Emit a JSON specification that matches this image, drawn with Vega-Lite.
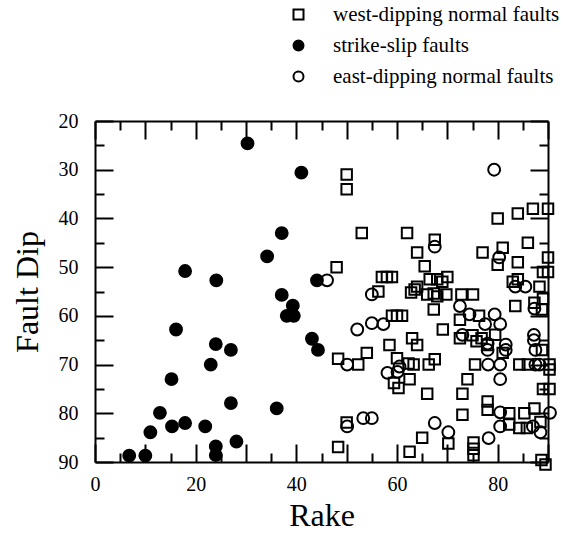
{
  "$schema": "https://vega.github.io/schema/vega-lite/v6.json",
  "width": 453,
  "height": 341,
  "autosize": {"type": "none"},
  "padding": {"left": 95, "top": 121, "right": 15, "bottom": 73},
  "background": "white",
  "datasets": {
    "west": [
      {"r":50,"d":31,"t":"west-dipping normal faults"},{"r":50,"d":34,"t":"west-dipping normal faults"},
      {"r":80,"d":40,"t":"west-dipping normal faults"},{"r":84,"d":39,"t":"west-dipping normal faults"},
      {"r":87,"d":38,"t":"west-dipping normal faults"},{"r":90,"d":38,"t":"west-dipping normal faults"},
      {"r":53,"d":43,"t":"west-dipping normal faults"},{"r":62,"d":43,"t":"west-dipping normal faults"},
      {"r":67.5,"d":44.4,"t":"west-dipping normal faults"},{"r":64,"d":47,"t":"west-dipping normal faults"},
      {"r":77,"d":47,"t":"west-dipping normal faults"},{"r":81,"d":46,"t":"west-dipping normal faults"},
      {"r":86,"d":45,"t":"west-dipping normal faults"},{"r":90,"d":48,"t":"west-dipping normal faults"},
      {"r":90,"d":51,"t":"west-dipping normal faults"},{"r":89,"d":51,"t":"west-dipping normal faults"},
      {"r":80,"d":49.5,"t":"west-dipping normal faults"},{"r":84,"d":49,"t":"west-dipping normal faults"},
      {"r":48,"d":50,"t":"west-dipping normal faults"},{"r":65.5,"d":49.8,"t":"west-dipping normal faults"},
      {"r":57,"d":52,"t":"west-dipping normal faults"},{"r":58,"d":52,"t":"west-dipping normal faults"},
      {"r":59,"d":52,"t":"west-dipping normal faults"},{"r":66.5,"d":52.5,"t":"west-dipping normal faults"},
      {"r":70,"d":52,"t":"west-dipping normal faults"},{"r":68,"d":52.5,"t":"west-dipping normal faults"},
      {"r":69,"d":53,"t":"west-dipping normal faults"},{"r":64,"d":54,"t":"west-dipping normal faults"},
      {"r":83,"d":53,"t":"west-dipping normal faults"},{"r":84,"d":52.5,"t":"west-dipping normal faults"},
      {"r":88.3,"d":54,"t":"west-dipping normal faults"},{"r":63.5,"d":54.6,"t":"west-dipping normal faults"},
      {"r":62.8,"d":55.2,"t":"west-dipping normal faults"},{"r":56.3,"d":55,"t":"west-dipping normal faults"},
      {"r":66,"d":55.6,"t":"west-dipping normal faults"},{"r":67.3,"d":55.4,"t":"west-dipping normal faults"},
      {"r":68,"d":56,"t":"west-dipping normal faults"},{"r":69.8,"d":55.6,"t":"west-dipping normal faults"},
      {"r":72.8,"d":55.6,"t":"west-dipping normal faults"},{"r":75.1,"d":55.6,"t":"west-dipping normal faults"},
      {"r":67.3,"d":58.7,"t":"west-dipping normal faults"},{"r":59,"d":60,"t":"west-dipping normal faults"},
      {"r":60,"d":60,"t":"west-dipping normal faults"},{"r":61,"d":60,"t":"west-dipping normal faults"},
      {"r":76.3,"d":60,"t":"west-dipping normal faults"},{"r":83.5,"d":58,"t":"west-dipping normal faults"},
      {"r":87.3,"d":57.3,"t":"west-dipping normal faults"},{"r":89,"d":56.5,"t":"west-dipping normal faults"},
      {"r":88.8,"d":58.7,"t":"west-dipping normal faults"},{"r":72.5,"d":60.8,"t":"west-dipping normal faults"},
      {"r":69.1,"d":62.8,"t":"west-dipping normal faults"},{"r":72.5,"d":64.6,"t":"west-dipping normal faults"},
      {"r":75,"d":64,"t":"west-dipping normal faults"},{"r":76.8,"d":64.6,"t":"west-dipping normal faults"},
      {"r":79.5,"d":63.9,"t":"west-dipping normal faults"},{"r":78,"d":66,"t":"west-dipping normal faults"},
      {"r":75.8,"d":65.2,"t":"west-dipping normal faults"},{"r":81,"d":67.6,"t":"west-dipping normal faults"},
      {"r":88.8,"d":67,"t":"west-dipping normal faults"},{"r":58.5,"d":66,"t":"west-dipping normal faults"},
      {"r":63,"d":64.6,"t":"west-dipping normal faults"},{"r":64,"d":66,"t":"west-dipping normal faults"},
      {"r":48.3,"d":68.8,"t":"west-dipping normal faults"},{"r":52.3,"d":70,"t":"west-dipping normal faults"},
      {"r":54,"d":67.6,"t":"west-dipping normal faults"},{"r":60,"d":68.7,"t":"west-dipping normal faults"},
      {"r":62.3,"d":69.8,"t":"west-dipping normal faults"},{"r":63.3,"d":70,"t":"west-dipping normal faults"},
      {"r":62.5,"d":73,"t":"west-dipping normal faults"},{"r":59.4,"d":73.8,"t":"west-dipping normal faults"},
      {"r":60.3,"d":74.8,"t":"west-dipping normal faults"},{"r":66.3,"d":70,"t":"west-dipping normal faults"},
      {"r":67.5,"d":68.9,"t":"west-dipping normal faults"},{"r":75.5,"d":70,"t":"west-dipping normal faults"},
      {"r":74,"d":73,"t":"west-dipping normal faults"},{"r":84.3,"d":70,"t":"west-dipping normal faults"},
      {"r":86,"d":70,"t":"west-dipping normal faults"},{"r":90.3,"d":70,"t":"west-dipping normal faults"},
      {"r":90.3,"d":71,"t":"west-dipping normal faults"},{"r":66,"d":76,"t":"west-dipping normal faults"},
      {"r":73,"d":76,"t":"west-dipping normal faults"},{"r":89,"d":75,"t":"west-dipping normal faults"},
      {"r":90.3,"d":75,"t":"west-dipping normal faults"},{"r":50,"d":81.9,"t":"west-dipping normal faults"},
      {"r":73,"d":80.3,"t":"west-dipping normal faults"},{"r":78,"d":77.6,"t":"west-dipping normal faults"},
      {"r":78,"d":79.3,"t":"west-dipping normal faults"},{"r":82.3,"d":80,"t":"west-dipping normal faults"},
      {"r":82.3,"d":82.3,"t":"west-dipping normal faults"},{"r":85.3,"d":80,"t":"west-dipping normal faults"},
      {"r":87.3,"d":79,"t":"west-dipping normal faults"},{"r":84.3,"d":83,"t":"west-dipping normal faults"},
      {"r":85.8,"d":83,"t":"west-dipping normal faults"},{"r":88.5,"d":81.8,"t":"west-dipping normal faults"},
      {"r":65,"d":85,"t":"west-dipping normal faults"},{"r":70.2,"d":86.2,"t":"west-dipping normal faults"},
      {"r":75.2,"d":86,"t":"west-dipping normal faults"},{"r":75.2,"d":87.3,"t":"west-dipping normal faults"},
      {"r":75.2,"d":88.6,"t":"west-dipping normal faults"},{"r":48.3,"d":86.9,"t":"west-dipping normal faults"},
      {"r":62.5,"d":87.9,"t":"west-dipping normal faults"},{"r":88.7,"d":89.6,"t":"west-dipping normal faults"},
      {"r":89.5,"d":90.5,"t":"west-dipping normal faults"}
    ],
    "circles": [
      {"r":30.3,"d":24.6,"t":"strike-slip faults"},{"r":41,"d":30.6,"t":"strike-slip faults"},
      {"r":37.1,"d":43,"t":"strike-slip faults"},{"r":34.2,"d":47.8,"t":"strike-slip faults"},
      {"r":17.9,"d":50.8,"t":"strike-slip faults"},{"r":24.1,"d":52.7,"t":"strike-slip faults"},
      {"r":37.1,"d":55.7,"t":"strike-slip faults"},{"r":39.3,"d":57.9,"t":"strike-slip faults"},
      {"r":38.1,"d":60,"t":"strike-slip faults"},{"r":39.5,"d":60,"t":"strike-slip faults"},
      {"r":43.1,"d":64.7,"t":"strike-slip faults"},{"r":44.3,"d":67,"t":"strike-slip faults"},
      {"r":44.1,"d":52.7,"t":"strike-slip faults"},{"r":16.1,"d":62.8,"t":"strike-slip faults"},
      {"r":24,"d":65.8,"t":"strike-slip faults"},{"r":27,"d":67,"t":"strike-slip faults"},
      {"r":23,"d":70,"t":"strike-slip faults"},{"r":15.2,"d":73,"t":"strike-slip faults"},
      {"r":12.9,"d":79.9,"t":"strike-slip faults"},{"r":27,"d":77.9,"t":"strike-slip faults"},
      {"r":36.1,"d":79,"t":"strike-slip faults"},{"r":11,"d":83.9,"t":"strike-slip faults"},
      {"r":15.3,"d":82.7,"t":"strike-slip faults"},{"r":17.9,"d":82,"t":"strike-slip faults"},
      {"r":21.9,"d":82.7,"t":"strike-slip faults"},{"r":28.1,"d":85.8,"t":"strike-slip faults"},
      {"r":24,"d":86.8,"t":"strike-slip faults"},{"r":24,"d":88.6,"t":"strike-slip faults"},
      {"r":6.8,"d":88.7,"t":"strike-slip faults"},{"r":10,"d":88.7,"t":"strike-slip faults"},
      {"r":79.3,"d":30,"t":"east-dipping normal faults"},{"r":67.5,"d":45.8,"t":"east-dipping normal faults"},
      {"r":80.3,"d":48,"t":"east-dipping normal faults"},{"r":46.1,"d":52.7,"t":"east-dipping normal faults"},
      {"r":83.5,"d":54,"t":"east-dipping normal faults"},{"r":85.5,"d":54,"t":"east-dipping normal faults"},
      {"r":55,"d":55.6,"t":"east-dipping normal faults"},{"r":72.5,"d":58,"t":"east-dipping normal faults"},
      {"r":74.4,"d":59.7,"t":"east-dipping normal faults"},{"r":79.4,"d":59.7,"t":"east-dipping normal faults"},
      {"r":87.3,"d":58.5,"t":"east-dipping normal faults"},{"r":77.5,"d":61.7,"t":"east-dipping normal faults"},
      {"r":80.5,"d":61.7,"t":"east-dipping normal faults"},{"r":52.1,"d":62.8,"t":"east-dipping normal faults"},
      {"r":55,"d":61.5,"t":"east-dipping normal faults"},{"r":57.3,"d":61.7,"t":"east-dipping normal faults"},
      {"r":73,"d":63.9,"t":"east-dipping normal faults"},{"r":78,"d":65.7,"t":"east-dipping normal faults"},
      {"r":78,"d":67,"t":"east-dipping normal faults"},{"r":81.6,"d":65.9,"t":"east-dipping normal faults"},
      {"r":81.6,"d":67,"t":"east-dipping normal faults"},{"r":87.2,"d":63.9,"t":"east-dipping normal faults"},
      {"r":87.2,"d":65,"t":"east-dipping normal faults"},{"r":87.5,"d":67,"t":"east-dipping normal faults"},
      {"r":50.1,"d":70,"t":"east-dipping normal faults"},{"r":60.5,"d":70.4,"t":"east-dipping normal faults"},
      {"r":58.1,"d":71.7,"t":"east-dipping normal faults"},{"r":60.1,"d":71.5,"t":"east-dipping normal faults"},
      {"r":78.1,"d":70,"t":"east-dipping normal faults"},{"r":80.5,"d":70,"t":"east-dipping normal faults"},
      {"r":80.5,"d":73,"t":"east-dipping normal faults"},{"r":87.5,"d":70,"t":"east-dipping normal faults"},
      {"r":88.3,"d":70,"t":"east-dipping normal faults"},{"r":50.1,"d":82.7,"t":"east-dipping normal faults"},
      {"r":53.3,"d":81,"t":"east-dipping normal faults"},{"r":55,"d":81,"t":"east-dipping normal faults"},
      {"r":67.5,"d":82,"t":"east-dipping normal faults"},{"r":70.2,"d":83.9,"t":"east-dipping normal faults"},
      {"r":80.5,"d":79.8,"t":"east-dipping normal faults"},{"r":90.4,"d":79.9,"t":"east-dipping normal faults"},
      {"r":80.5,"d":82.7,"t":"east-dipping normal faults"},{"r":88.5,"d":83.9,"t":"east-dipping normal faults"},
      {"r":87,"d":82.7,"t":"east-dipping normal faults"},{"r":78.2,"d":85.1,"t":"east-dipping normal faults"}
    ]
  },
  "layer": [
    {
      "data": {"name": "west"},
      "mark": {"type": "point", "shape": "square", "size": 110, "strokeWidth": 2, "opacity": 1},
      "encoding": {
        "x": {"field": "r", "type": "quantitative", "scale": {"domain": [0, 90], "nice": false, "zero": false},
          "axis": {"orient": "bottom", "title": "Rake", "values": [0,5,10,15,20,25,30,35,40,45,50,55,60,65,70,75,80,85,90],
            "labelExpr": "datum.value % 20 === 0 ? datum.label : ''",
            "tickSize": {"condition": {"test": "datum.value % 10 === 0", "value": -18}, "value": -9},
            "labelPadding": 30, "titlePadding": 6, "labelFlush": false}},
        "y": {"field": "d", "type": "quantitative", "scale": {"domain": [20, 90], "reverse": true, "nice": false, "zero": false},
          "axis": {"orient": "left", "title": "Fault Dip", "values": [20,25,30,35,40,45,50,55,60,65,70,75,80,85,90],
            "labelExpr": "datum.value % 10 === 0 ? datum.label : ''",
            "tickSize": {"condition": {"test": "datum.value % 10 === 0", "value": -18}, "value": -9},
            "labelPadding": 35, "titlePadding": 14, "labelFlush": false}},
        "shape": {"field": "t", "type": "nominal",
          "scale": {"domain": ["west-dipping normal faults", "strike-slip faults", "east-dipping normal faults"], "range": ["square", "circle", "circle"]},
          "legend": {"orient": "none", "legendX": 193, "legendY": -117, "title": null}},
        "fill": {"field": "t", "type": "nominal",
          "scale": {"domain": ["west-dipping normal faults", "strike-slip faults", "east-dipping normal faults"], "range": ["transparent", "black", "transparent"]},
          "legend": {"orient": "none", "legendX": 193, "legendY": -117, "title": null}},
        "stroke": {"field": "t", "type": "nominal",
          "scale": {"domain": ["west-dipping normal faults", "strike-slip faults", "east-dipping normal faults"], "range": ["black", "black", "black"]},
          "legend": {"orient": "none", "legendX": 193, "legendY": -117, "title": null}}
      }
    },
    {
      "data": {"name": "circles"},
      "mark": {"type": "point", "shape": "circle", "size": 140, "strokeWidth": 2, "opacity": 1},
      "encoding": {
        "x": {"field": "r", "type": "quantitative",
          "axis": {"orient": "top", "title": null, "labels": false, "values": [0,5,10,15,20,25,30,35,40,45,50,55,60,65,70,75,80,85,90],
            "tickSize": {"condition": {"test": "datum.value % 10 === 0", "value": -18}, "value": -9}}},
        "y": {"field": "d", "type": "quantitative",
          "axis": {"orient": "right", "title": null, "labels": false, "values": [20,25,30,35,40,45,50,55,60,65,70,75,80,85,90],
            "tickSize": {"condition": {"test": "datum.value % 10 === 0", "value": -18}, "value": -9}}},
        "shape": {"field": "t", "type": "nominal"},
        "fill": {"field": "t", "type": "nominal"},
        "stroke": {"field": "t", "type": "nominal"}
      }
    }
  ],
  "resolve": {"axis": {"x": "independent", "y": "independent"}},
  "config": {
    "view": {"stroke": null},
    "axis": {
      "grid": false, "domainColor": "black", "domainWidth": 2, "tickColor": "black", "tickWidth": 2,
      "labelFont": "Liberation Serif", "labelFontSize": 20, "labelColor": "black",
      "titleFont": "Liberation Serif", "titleFontSize": 32, "titleFontWeight": "normal", "titleColor": "black"
    },
    "legend": {
      "labelFont": "Liberation Serif", "labelFontSize": 21, "labelColor": "black", "labelLimit": 400,
      "symbolSize": 100, "symbolStrokeWidth": 2, "rowPadding": 9, "labelOffset": 24, "padding": 0
    }
  }
}
